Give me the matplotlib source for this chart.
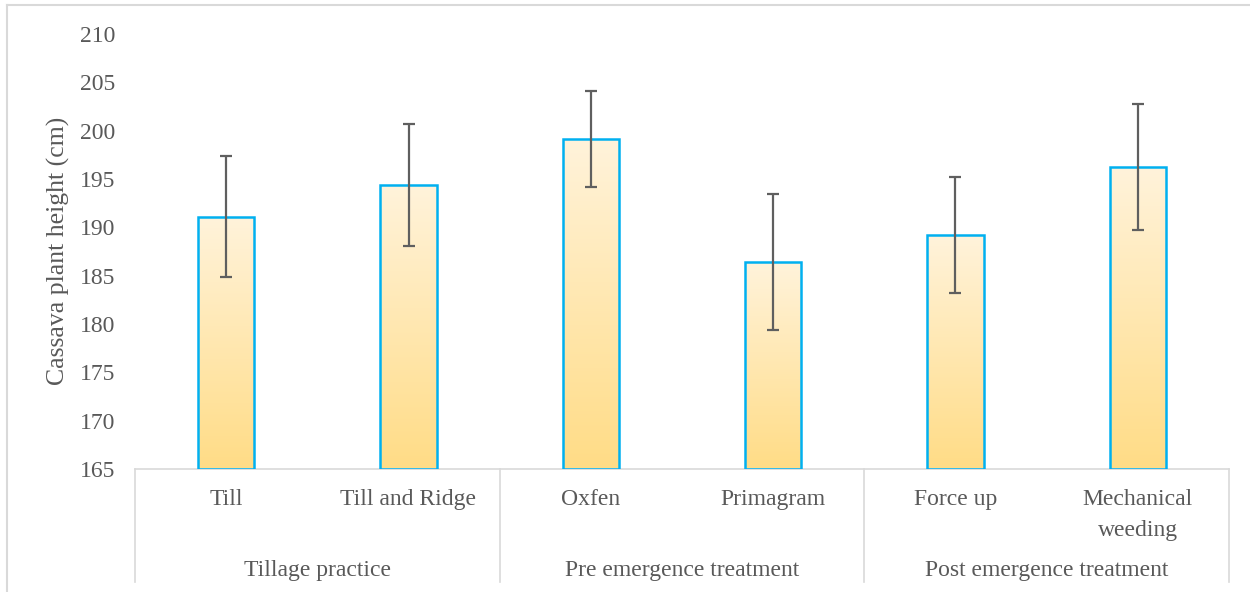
import numpy as np
import matplotlib
matplotlib.use("Agg")
import matplotlib.pyplot as plt
from matplotlib.lines import Line2D
from matplotlib.colors import LinearSegmentedColormap

categories = ["Till", "Till and Ridge", "Oxfen", "Primagram", "Force up", "Mechanical\nweeding"]
groups = ["Tillage practice", "Pre emergence treatment", "Post emergence treatment"]
group_sizes = [2, 2, 2]
heights = [191.1, 194.4, 199.15, 186.4, 189.2, 196.25]
errors = [6.25, 6.3, 4.95, 7.0, 6.0, 6.5]
yticks = [165, 170, 175, 180, 185, 190, 195, 200, 205, 210]

plt.rcParams['font.family'] = ['Liberation Serif', 'DejaVu Serif']
TXT = '#595959'
GRID = '#D9D9D9'

W, H = 1250, 592
fig = plt.figure(figsize=(W/100, H/100), dpi=100)
ax = fig.add_axes([135/W, 1-469/H, (1229-135)/W, (469-34)/H])

x = np.arange(len(categories))
width = 0.31
bars = ax.bar(x, [h - yticks[0] for h in heights], bottom=yticks[0], width=width,
              facecolor='none', edgecolor='#00B0F0', linewidth=1.8, zorder=3)

cmap = LinearSegmentedColormap.from_list('g', ['#FFDC86', '#FFF3DB'])
grad = np.linspace(0, 1, 256).reshape(-1, 1)
for b in bars:
    x0, y0 = b.get_x(), b.get_y()
    im = ax.imshow(grad, cmap=cmap, origin='lower', aspect='auto',
                   extent=[x0, x0 + b.get_width(), y0, y0 + b.get_height()], zorder=2)
    im.set_clip_path(b)

ax.errorbar(x, heights, yerr=errors, fmt='none', ecolor='#5f5f5f', elinewidth=1.6,
            capsize=4.2, capthick=1.6, zorder=4)

ax.set_xlim(-0.5, len(categories) - 0.5)
ax.set_ylim(yticks[0], yticks[-1])
ax.set_yticks(yticks)
ax.set_yticklabels([str(t) for t in yticks], fontsize=17, color=TXT)
ax.tick_params(axis='y', length=0, pad=14)
ax.set_xticks([])
for s in ['top', 'right', 'left']:
    ax.spines[s].set_visible(False)
ax.spines['bottom'].set_color(GRID)
ax.spines['bottom'].set_linewidth(1.2)

# category labels
xt = ax.get_xaxis_transform()
for i, c in enumerate(categories):
    ax.text(i, -0.046, c, transform=xt, ha='center', va='top', fontsize=17,
            color=TXT, linespacing=1.6, clip_on=False)

# group labels and separators
start = 0
bounds = [-0.5]
for g, n in zip(groups, group_sizes):
    center = start + (n - 1) / 2
    ax.text(center, -0.21, g, transform=xt, ha='center', va='top', fontsize=17,
            color=TXT, clip_on=False)
    start += n
    bounds.append(start - 0.5)
for bx in bounds:
    ax.add_line(Line2D([bx, bx], [0, -(582-469)/(469-34)], transform=xt,
                       color=GRID, linewidth=1.2, clip_on=False))

fig.text(58/W, 1-251/H, "Cassava plant height (cm)", rotation=90, ha='center', va='center',
         fontsize=18.5, color=TXT)

# outer chart border
fig.add_artist(Line2D([7/W, 7/W], [0, 1-5/H], transform=fig.transFigure, color=GRID, linewidth=1.5))
fig.add_artist(Line2D([7/W, 1], [1-5/H, 1-5/H], transform=fig.transFigure, color=GRID, linewidth=1.5))

fig.savefig('out.png', dpi=100)
